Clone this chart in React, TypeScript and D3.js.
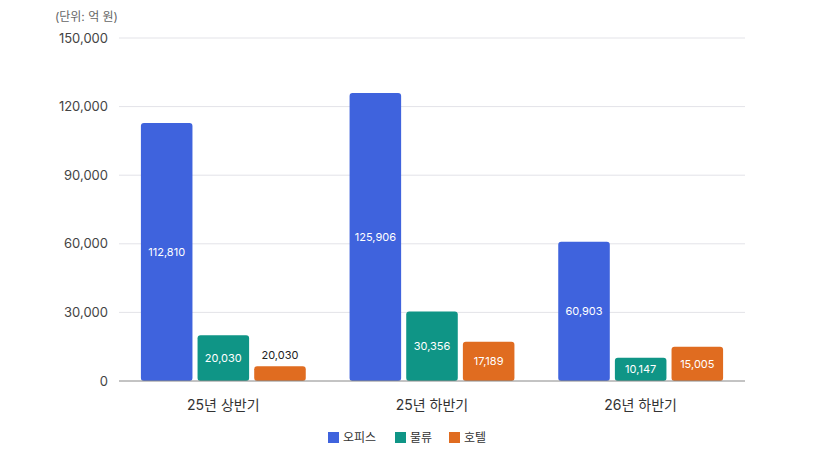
import React from "react";
import * as d3 from "d3";

const categories = ["25년 상반기", "25년 하반기", "26년 하반기"];
const seriesNames = ["오피스", "물류", "호텔"];
const officeValues = [112810, 125906, 60903];
const logisticsValues = [20030, 30356, 10147];
const hotelValues = [6500, 17189, 15005];
const officeLabels = ["112,810", "125,906", "60,903"];
const logisticsLabels = ["20,030", "30,356", "10,147"];
const hotelLabels = ["20,030", "17,189", "15,005"];
const yTicks = [0, 30000, 60000, 90000, 120000, 150000];
const colors = ["#3F63DD", "#0F9586", "#E06C20"];

const W = 818;
const H = 460;
const FONT = "Inter, 'Noto Sans CJK KR', sans-serif";

export default function App() {
  const x0 = d3
    .scaleBand<string>()
    .domain(categories)
    .range([119, 745])
    .paddingInner(0.21)
    .paddingOuter(0.105);
  const x1 = d3
    .scaleBand<string>()
    .domain(seriesNames)
    .range([0, x0.bandwidth()])
    .paddingInner(0.09);
  const y = d3.scaleLinear().domain([0, 150000]).range([381, 38]);
  const fmt = d3.format(",");

  const series = [
    { name: seriesNames[0], values: officeValues, labels: officeLabels, color: colors[0] },
    { name: seriesNames[1], values: logisticsValues, labels: logisticsLabels, color: colors[1] },
    { name: seriesNames[2], values: hotelValues, labels: hotelLabels, color: colors[2] },
  ];

  const legendX = [328, 395, 449];

  return (
    <svg
      width={W}
      height={H}
      style={{ position: "absolute", left: 0, top: 0, background: "#fff" }}
      fontFamily={FONT}
    >
      <text x={118} y={21} textAnchor="end" fontSize={12} fill="#666">
        (단위: 억 원)
      </text>
      {yTicks.map((t) => (
        <g key={t}>
          {t !== 0 && (
            <line x1={119} x2={745} y1={y(t)} y2={y(t)} stroke="#e3e3e8" strokeWidth={1} />
          )}
          <text
            x={108}
            y={y(t)}
            dy="0.35em"
            textAnchor="end"
            fontSize={13}
            fill="#444"
          >
            {fmt(t)}
          </text>
        </g>
      ))}
      {categories.map((c, i) => (
        <g key={c} transform={`translate(${x0(c)},0)`}>
          {series.map((s) => {
            const v = s.values[i];
            const bx = x1(s.name)!;
            const bw = x1.bandwidth();
            const top = y(v);
            const h = y(0) - top;
            const inside = h > 18;
            return (
              <g key={s.name}>
                <rect x={bx} y={top} width={bw} height={h} rx={3} ry={3} fill={s.color} />
                <text
                  x={bx + bw / 2}
                  y={inside ? top + h / 2 : top - 7}
                  dy={inside ? "0.35em" : 0}
                  textAnchor="middle"
                  fontSize={11}
                  fill={inside ? "#fff" : "#222"}
                >
                  {s.labels[i]}
                </text>
              </g>
            );
          })}
          <text
            x={x0.bandwidth() / 2}
            y={410}
            textAnchor="middle"
            fontSize={14}
            fill="#333"
          >
            {c}
          </text>
        </g>
      ))}
      <line x1={119} x2={745} y1={y(0)} y2={y(0)} stroke="#888" strokeWidth={1} />
      {series.map((s, i) => (
        <g key={s.name} transform={`translate(${legendX[i]},432)`}>
          <rect x={0} y={0} width={11} height={11} fill={s.color} />
          <text x={15} y={5.5} dy="0.35em" fontSize={12} fill="#333">
            {s.name}
          </text>
        </g>
      ))}
    </svg>
  );
}
